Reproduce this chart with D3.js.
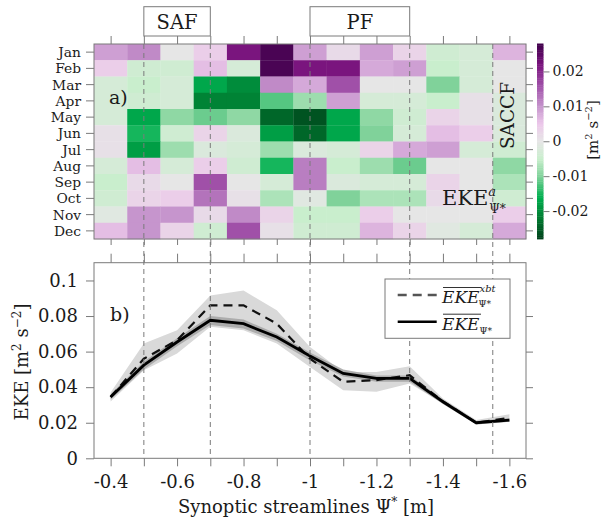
<!DOCTYPE html>
<html><head><meta charset="utf-8">
<script src="https://cdn.jsdelivr.net/npm/d3@7"></script>
<style>
body{margin:0;background:#fff}
text{font-family:"DejaVu Serif",serif;fill:#1a1a1a}
</style>
</head><body>
<svg id="chart" width="608" height="526"></svg>
<script>
// ---------------- data ----------------
const months = ["Jan","Feb","Mar","Apr","May","Jun","Jul","Aug","Sep","Oct","Nov","Dec"];
const streamlines = [-0.4,-0.5,-0.6,-0.7,-0.8,-0.9,-1.0,-1.1,-1.2,-1.3,-1.4,-1.5,-1.6];
// monthly EKE anomaly [m2 s-2], one row per month, one value per streamline
const anomalyByMonth = [
  [ 0.009, 0.011, 0.000, 0.004, 0.022, 0.027, 0.009, 0.002, 0.009, 0.003,-0.004,-0.003, 0.007],
  [ 0.004,-0.004,-0.004, 0.006,-0.003, 0.027, 0.022, 0.022, 0.008, 0.009,-0.005,-0.003, 0.000],
  [-0.003,-0.005,-0.003,-0.017,-0.020, 0.011, 0.008, 0.016, 0.000, 0.000,-0.010,-0.003, 0.000],
  [-0.003,-0.004,-0.003,-0.021,-0.021,-0.012,-0.008, 0.009,-0.003,-0.003,-0.005, 0.001,-0.002],
  [-0.003,-0.017,-0.009,-0.011,-0.009,-0.024,-0.026,-0.017,-0.009,-0.004, 0.003, 0.001,-0.002],
  [ 0.001,-0.015,-0.004, 0.003,-0.002,-0.018,-0.024,-0.017,-0.010,-0.003, 0.006, 0.004,-0.002],
  [ 0.001,-0.018,-0.008,-0.002,-0.003,-0.008,-0.002,-0.003, 0.003, 0.008, 0.009,-0.003,-0.004],
  [-0.003, 0.006,-0.003, 0.004,-0.004,-0.015, 0.012,-0.005,-0.008,-0.011, 0.000, 0.000,-0.009],
  [-0.005, 0.002, 0.000, 0.016, 0.000,-0.003, 0.012,-0.002,-0.003,-0.003, 0.003, 0.000,-0.007],
  [-0.004, 0.003, 0.004, 0.013, 0.001,-0.007,-0.001,-0.010,-0.007,-0.007, 0.002, 0.000,-0.004],
  [-0.001, 0.010, 0.010, 0.002, 0.011, 0.003,-0.005,-0.005, 0.004, 0.000, 0.000, 0.000, 0.004],
  [ 0.006, 0.010, 0.003,-0.004, 0.016, 0.001,-0.004,-0.004, 0.007, 0.003,-0.001,-0.003, 0.008]
];
const ekeMean     = [0.0345,0.0524,0.0654,0.0776,0.0757,0.0682,0.0575,0.0477,0.0449,0.0449,0.0318,0.0200,0.0215];
const ekeMeanLow  = [0.0330,0.0500,0.0630,0.0750,0.0730,0.0660,0.0550,0.0460,0.0430,0.0430,0.0305,0.0190,0.0205];
const ekeMeanHigh = [0.0360,0.0545,0.0675,0.0800,0.0780,0.0700,0.0595,0.0500,0.0465,0.0465,0.0330,0.0210,0.0225];
const ekeXbt      = [0.0345,0.0560,0.0664,0.0860,0.0860,0.0757,0.0560,0.0430,0.0440,0.0467,0.0320,0.0200,0.0228];
const ekeXbtLow   = [0.0320,0.0495,0.0590,0.0740,0.0720,0.0645,0.0514,0.0383,0.0374,0.0420,0.0308,0.0190,0.0205];
const ekeXbtHigh  = [0.0370,0.0645,0.0720,0.0916,0.0944,0.0832,0.0626,0.0486,0.0486,0.0518,0.0336,0.0215,0.0248];
const xTickValues = [-0.4,-0.5,-0.6,-0.7,-0.8,-0.9,-1.0,-1.1,-1.2,-1.3,-1.4,-1.5,-1.6];
const xTickLabels = [-0.4,-0.6,-0.8,-1.0,-1.2,-1.4,-1.6];
const yTicks = [0,0.02,0.04,0.06,0.08,0.1];
const cbarTicks = [-0.02,-0.01,0,0.01,0.02];
const frontNames = ["SAF","PF"];
const frontNorth = [-0.5,-1.0];
const frontSouth = [-0.7,-1.3];
const frontLines = [-0.5,-0.7,-1.0,-1.3,-1.55];

// ---------------- layout ----------------
const svg = d3.select("#chart");
const GREY = "#7a7a7a";
const fmt = v => String(+v.toFixed(3));

const x = d3.scaleLinear().domain([-0.35,-1.65]).range([94,526]);
const yHeat = d3.scaleBand().domain(months).range([44,239]);
const yEke = d3.scaleLinear().domain([0,0.11]).range([458.3,262.7]);
const cScale = d3.scaleLinear()
  .domain([-0.028,-0.022,-0.016,-0.010,-0.005,0,0.005,0.010,0.016,0.022,0.028])
  .range(["#00401a","#007a30","#00b050","#80d29a","#c9eecd","#e6e6e6","#ecc8ea","#c695cd","#a050a8","#7a157e","#40004b"])
  .clamp(true);
const cbY = d3.scaleLinear().domain([-0.028,0.028]).range([239,43.5]);

function styleAxis(g, labels){
  g.select(".domain").remove();
  g.selectAll(".tick line").attr("stroke",GREY).attr("stroke-width",1);
  g.selectAll(".tick text").style("font-family","'DejaVu Serif',serif").attr("fill","#1a1a1a");
  if(!labels) g.selectAll(".tick text").remove();
}

// ---------------- panel a: heatmap ----------------
const heat = svg.append("g");
months.forEach((m,i)=>{
  heat.selectAll(null).data(anomalyByMonth[i]).enter().append("rect")
    .attr("x",(d,j)=>x(streamlines[j]+0.05))
    .attr("y",yHeat(m))
    .attr("width",(d,j)=>x(streamlines[j]-0.05)-x(streamlines[j]+0.05)+0.3)
    .attr("height",yHeat.bandwidth()+0.3)
    .attr("fill",d=>cScale(d));
});
heat.append("rect").attr("x",94).attr("y",44).attr("width",432).attr("height",195)
  .attr("fill","none").attr("stroke",GREY);

svg.append("g").attr("transform","translate(94,0)")
  .call(d3.axisLeft(yHeat).tickSize(8).tickPadding(5))
  .call(g=>styleAxis(g,true))
  .selectAll(".tick text").style("font-size","13.8px").attr("dy","0.36em");
svg.append("g").attr("transform","translate(526,0)")
  .call(d3.axisRight(yHeat).tickSize(7)).call(g=>styleAxis(g,false));
svg.append("g").attr("transform","translate(0,44)")
  .call(d3.axisTop(x).tickValues(xTickValues).tickSize(8)).call(g=>styleAxis(g,false));
svg.append("g").attr("transform","translate(0,239)")
  .call(d3.axisBottom(x).tickValues(xTickValues).tickSize(6)).call(g=>styleAxis(g,false));

// front boxes
frontNames.forEach((n,i)=>{
  const x0 = x(frontNorth[i]), x1 = x(frontSouth[i]);
  svg.append("rect").attr("x",x0).attr("y",6.7).attr("width",x1-x0).attr("height",29.3)
    .attr("fill","#fff").attr("stroke",GREY);
  svg.append("text").attr("x",(x0+x1)/2).attr("y",29).attr("text-anchor","middle")
    .style("font-size","19.5px").text(n);
});

svg.append("text").attr("x",109).attr("y",104).style("font-size","19px").text("a)");
svg.append("text").attr("transform","translate(514,115.5) rotate(-90)")
  .attr("text-anchor","middle").style("font-size","18.5px").text("SACCF");
const ekeA = svg.append("text").attr("x",442).attr("y",205).style("font-size","21px");
ekeA.append("tspan").text("EKE");
ekeA.append("tspan").attr("dy",-9).style("font-size","13px").style("font-style","italic").text("a");
ekeA.append("tspan").attr("dx",-7).attr("dy",17).style("font-size","12px").text("Ψ*");

// colorbar
const cb = svg.append("g");
const cbSteps = d3.range(-0.028,0.028,0.0005);
cb.selectAll("rect").data(cbSteps).enter().append("rect")
  .attr("x",537).attr("width",6.5)
  .attr("y",d=>cbY(d+0.0005)).attr("height",d=>cbY(d)-cbY(d+0.0005)+0.4)
  .attr("fill",d=>cScale(d+0.00025));
svg.append("g").attr("transform","translate(543.5,0)")
  .call(d3.axisRight(cbY).tickValues(cbarTicks).tickSize(6).tickPadding(3).tickFormat(fmt))
  .call(g=>styleAxis(g,true))
  .selectAll(".tick text").style("font-size","14px");
svg.append("text").attr("transform","translate(598,130) rotate(-90)").attr("text-anchor","middle")
  .style("font-size","15px")
  .call(t=>{
    t.append("tspan").text("[m");
    t.append("tspan").attr("dy",-6).style("font-size","10px").text("2");
    t.append("tspan").attr("dy",6).text(" s");
    t.append("tspan").attr("dy",-6).style("font-size","10px").text("−2");
    t.append("tspan").attr("dy",6).text("]");
  });

// ---------------- panel b: EKE profiles ----------------
const pb = svg.append("g");
const area = (lo,hi)=>d3.area().x((d,i)=>x(streamlines[i])).y0((d,i)=>yEke(lo[i])).y1((d,i)=>yEke(hi[i]));
pb.append("path").datum(streamlines).attr("d",area(ekeXbtLow,ekeXbtHigh)).attr("fill","#d9d9d9");
pb.append("path").datum(streamlines).attr("d",area(ekeMeanLow,ekeMeanHigh)).attr("fill","#a3a3a3").attr("fill-opacity",0.85);

// front dashed lines across both panels
svg.append("g").selectAll("line").data(frontLines).enter().append("line")
  .attr("x1",d=>x(d)).attr("x2",d=>x(d)).attr("y1",44).attr("y2",458.3)
  .attr("stroke","#7a7a7a").attr("stroke-width",1).attr("stroke-dasharray","5,4");

const line = vals=>d3.line().x((d,i)=>x(streamlines[i])).y((d,i)=>yEke(vals[i]));
pb.append("path").datum(streamlines).attr("d",line(ekeXbt)).attr("fill","none")
  .attr("stroke","#111").attr("stroke-width",2.2).attr("stroke-dasharray","9,6");
pb.append("path").datum(streamlines).attr("d",line(ekeMean)).attr("fill","none")
  .attr("stroke","#000").attr("stroke-width",2.8);

svg.append("rect").attr("x",94).attr("y",262.7).attr("width",432).attr("height",195.6)
  .attr("fill","none").attr("stroke",GREY);
svg.append("g").attr("transform","translate(94,0)")
  .call(d3.axisLeft(yEke).tickValues(yTicks).tickSize(8).tickPadding(8).tickFormat(fmt))
  .call(g=>styleAxis(g,true))
  .selectAll(".tick text").style("font-size","18px");
svg.append("g").attr("transform","translate(526,0)")
  .call(d3.axisRight(yEke).tickValues(yTicks).tickSize(7)).call(g=>styleAxis(g,false));
svg.append("g").attr("transform","translate(0,262.7)")
  .call(d3.axisTop(x).tickValues(xTickValues).tickSize(9)).call(g=>styleAxis(g,false));
const xb = svg.append("g").attr("transform","translate(0,458.3)")
  .call(d3.axisBottom(x).tickValues(xTickValues).tickSize(8).tickPadding(9).tickFormat(fmt))
  .call(g=>styleAxis(g,true));
xb.selectAll(".tick text").style("font-size","18px")
  .filter(d=>!xTickLabels.some(v=>Math.abs(v-d)<1e-6)).remove();

svg.append("text").attr("x",110).attr("y",321).style("font-size","19px").text("b)");

svg.append("text").attr("x",306).attr("y",513).attr("text-anchor","middle").style("font-size","18px")
  .call(t=>{
    t.append("tspan").text("Synoptic streamlines Ψ");
    t.append("tspan").attr("dy",-7).style("font-size","12px").text("*");
    t.append("tspan").attr("dy",7).text(" [m]");
  });
svg.append("text").attr("transform","translate(28,362) rotate(-90)").attr("text-anchor","middle")
  .style("font-size","18px")
  .call(t=>{
    t.append("tspan").text("EKE  [m");
    t.append("tspan").attr("dy",-7).style("font-size","12px").text("2");
    t.append("tspan").attr("dy",7).text(" s");
    t.append("tspan").attr("dy",-7).style("font-size","12px").text("−2");
    t.append("tspan").attr("dy",7).text("]");
  });

// legend
const lg = svg.append("g");
lg.append("rect").attr("x",385).attr("y",279).attr("width",125).attr("height",59.3)
  .attr("fill","#fff").attr("stroke",GREY);
const legendItems = [{y:295,dash:"9,6",col:"#555",sup:"xbt"},{y:321.7,dash:null,col:"#000",sup:null}];
legendItems.forEach(it=>{
  lg.append("line").attr("x1",397.7).attr("x2",436.7).attr("y1",it.y).attr("y2",it.y)
    .attr("stroke",it.col).attr("stroke-width",2.6).attr("stroke-dasharray",it.dash);
  const t = lg.append("text").attr("x",442).attr("y",it.y+8).style("font-size","17px");
  t.append("tspan").style("font-style","italic").text("EKE");
  if(it.sup){
    t.append("tspan").attr("dy",-11).style("font-size","10px").style("font-style","italic").text(it.sup);
    t.append("tspan").attr("dx",-17).attr("dy",15).style("font-size","9px").text("Ψ*");
  } else {
    t.append("tspan").attr("dy",4).style("font-size","9px").text("Ψ*");
  }
  lg.append("line").attr("x1",443).attr("x2",481).attr("y1",it.y-7.5).attr("y2",it.y-7.5)
    .attr("stroke","#333").attr("stroke-width",1);
});
</script>
</body></html>
